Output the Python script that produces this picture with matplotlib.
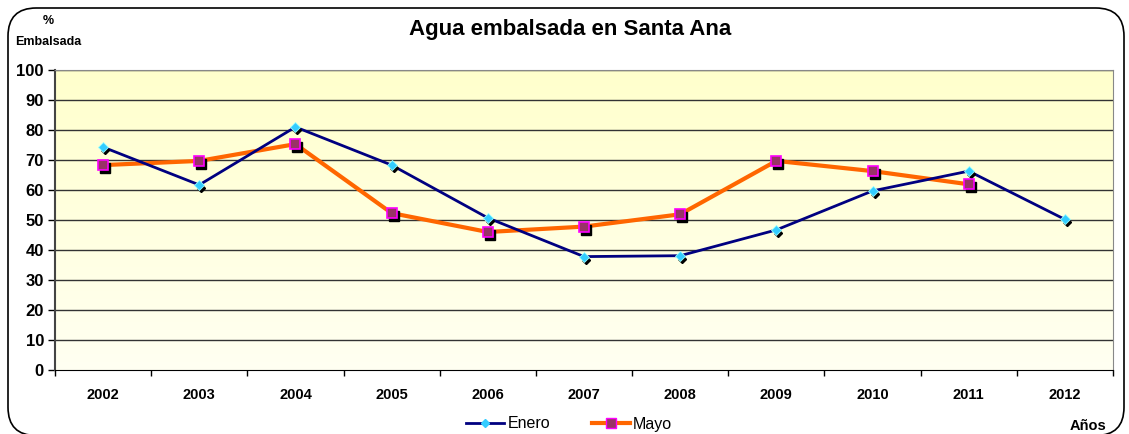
import numpy as np
import matplotlib
matplotlib.use("Agg")
import matplotlib.pyplot as plt
import matplotlib.transforms as mtransforms
from matplotlib.patches import FancyBboxPatch
from matplotlib.colors import LinearSegmentedColormap

years = ["2002", "2003", "2004", "2005", "2006", "2007", "2008", "2009", "2010", "2011", "2012"]
enero = [74.3, 61.7, 81.0, 68.3, 50.7, 37.8, 38.1, 46.7, 59.7, 66.3, 50.2]
mayo = [68.3, 69.7, 75.3, 52.3, 46.0, 47.8, 51.9, 69.7, 66.3, 61.9]

plt.rcParams['font.family'] = ['Liberation Sans', 'DejaVu Sans']

fig = plt.figure(figsize=(11.29, 4.34), dpi=100)
# rounded outer frame (bottom edge sits just off the picture)
frame = FancyBboxPatch((8 / 1129, -1.5 / 434), 1116 / 1129, 1 - 6.5 / 434,
                       boxstyle="round,pad=0,rounding_size=0.025",
                       transform=fig.transFigure, facecolor="none",
                       edgecolor="black", linewidth=1.2, mutation_aspect=2.6,
                       zorder=-1)
fig.patches.append(frame)

ax = fig.add_axes([55 / 1129, 1 - 370 / 434, (1113 - 55) / 1129, 300 / 434])
x = np.arange(len(years))

# gradient background
grad = np.linspace(0, 1, 256).reshape(-1, 1)
cmap = LinearSegmentedColormap.from_list("bg", ["#FFFFF2", "#FFFFCC"])
ax.imshow(grad, extent=(-0.5, 10.5, 0, 100), origin="lower", aspect="auto",
          cmap=cmap, zorder=0)

ax.set_xlim(-0.5, 10.5)
ax.set_ylim(0, 100)
ax.set_yticks(range(0, 101, 10))
for v in range(10, 101, 10):
    ax.axhline(v, color="#333333", linewidth=1.0, zorder=1)

shadow = mtransforms.offset_copy(ax.transData, fig=fig, x=2, y=-3, units="dots")

xm = np.arange(len(mayo))
ax.plot(xm, mayo, color="#FF6600", linewidth=3, zorder=3)
ax.plot(x, enero, color="#000080", linewidth=2, zorder=4)
ax.plot(xm, mayo, linestyle="none", marker="s", markersize=6.5, color="black",
        transform=shadow, zorder=3.5)
ax.plot(x, enero, linestyle="none", marker="D", markersize=4.5, color="black",
        transform=shadow, zorder=4.5)
ax.plot(xm, mayo, linestyle="none", marker="s", markersize=7,
        markerfacecolor="#993366", markeredgecolor="#FF00FF", markeredgewidth=1.2, zorder=5)
ax.plot(x, enero, linestyle="none", marker="D", markersize=5,
        markerfacecolor="#33CCFF", markeredgecolor="#99FFFF", markeredgewidth=0.6, zorder=6)

# category axis: ticks between categories
ax.set_xticks(np.arange(-0.5, 10.6, 1))
ax.set_xticklabels([])
ax.set_xticks(x, minor=True)
ax.set_xticklabels(years, minor=True, fontsize=10.5, fontweight="bold")
ax.tick_params(axis="x", which="minor", length=0, pad=13)
ax.tick_params(axis="x", which="major", length=4, direction="out", width=1)
ax.tick_params(axis="y", length=5, direction="out", labelsize=12, width=1, pad=3)
for lab in ax.get_yticklabels():
    lab.set_fontweight("bold")

for s in ["top", "right"]:
    ax.spines[s].set_color("#888888")
ax.spines["left"].set_color("#444444")
ax.spines["bottom"].set_color("black")
ax.spines["left"].set_linewidth(1.5)

fig.text(570 / 1129, 1 - 30 / 434, "Agua embalsada en Santa Ana", ha="center", va="center",
         fontsize=16, fontweight="bold")
fig.text(48 / 1129, 1 - 21 / 434, "%", ha="center", va="center", fontsize=9, fontweight="bold")
fig.text(48 / 1129, 1 - 42 / 434, "Embalsada", ha="center", va="center", fontsize=9, fontweight="bold")
fig.text(1088 / 1129, 1 - 426 / 434, "Años", ha="center", va="center", fontsize=10.5, fontweight="bold")

h1, = ax.plot([], [], color="#000080", linewidth=2, marker="D", markersize=4,
              markerfacecolor="#33CCFF", markeredgecolor="#33CCFF")
h2, = ax.plot([], [], color="#FF6600", linewidth=3, marker="s", markersize=7,
              markerfacecolor="#993366", markeredgecolor="#FF00FF")
fig.legend([h1, h2], ["Enero", "Mayo"], loc="center", bbox_to_anchor=(569 / 1129, 1 - 424 / 434),
           ncol=2, frameon=False, fontsize=11.5, handlelength=2.4, columnspacing=2.6,
           handletextpad=0.2)

fig.savefig("out.png", dpi=100)
